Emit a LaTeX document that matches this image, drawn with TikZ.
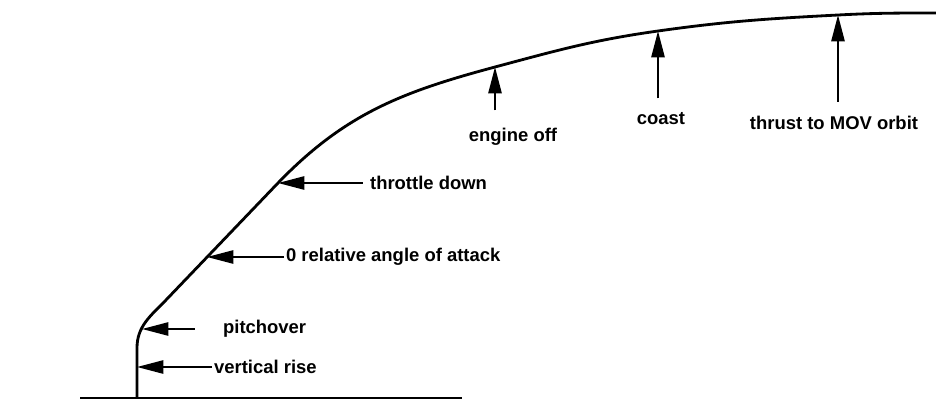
\documentclass[tikz,border=0pt]{standalone}
\usepackage{fontspec}
\setmainfont{Liberation Sans}
\usetikzlibrary{arrows.meta,positioning}

\begin{document}
\begin{tikzpicture}[x=0.02cm,y=0.02cm,
    lbl/.style={font=\bfseries\fontsize{10.5}{12}\selectfont,inner sep=1pt},
    pointer/.style={-{Triangle[length=15pt,width=7.5pt]},line width=1.2pt},
    trail/.style={line width=1.6pt}]
  \useasboundingbox (0,0) rectangle (936,400);
  % ground and trajectory
  \coordinate (g0) at (80,2);
  \coordinate (g1) at (462,2);
  \coordinate (rise) at (137,33);
  \coordinate (pitch) at (142,71);
  \coordinate (zero) at (207,143);
  \coordinate (throt) at (278,217);
  \coordinate (off) at (495,333);
  \coordinate (coast) at (658,369);
  \coordinate (thrust) at (838,385);
  \draw[trail] (g0) -- (g1);
  \draw[trail] (137,2) -- (137,52) to[out=90,in=226] (166,100) -- (throt)
    to[out=46,in=195] (off) to[out=15,in=188] (coast)
    to[out=8,in=183] (thrust) to[out=3,in=180] (936,387);
  % side labels
  \node[lbl,anchor=west] (lrise) at (212,33) {vertical rise};
  \node[lbl,anchor=west] (lpitch) at (221,71) {pitchover};
  \node[lbl,anchor=west] (lzero) at (284,143) {0 relative angle of attack};
  \node[lbl,anchor=west] (lthrot) at (368,217) {throttle down};
  \draw[pointer] (lrise.west) -- (rise);
  \draw[pointer,shorten <=15pt] (lpitch.west) -- (pitch);
  \draw[pointer] (lzero.west) -- (zero);
  \draw[pointer,shorten <=3pt] (lthrot.west) -- (throt);
  % labels below the arc
  \node[lbl] (loff) at (513,263) {engine off};
  \node[lbl] (lcoast) at (661,281) {coast};
  \node[lbl] (lthrust) at (834,277) {thrust to MOV orbit};
  \draw[pointer,shorten <=9pt] (loff.north -| off) -- (off);
  \draw[pointer,shorten <=7pt] (lcoast.north -| coast) -- (coast);
  \draw[pointer,shorten <=7pt] (lthrust.north -| thrust) -- (thrust);
\end{tikzpicture}
\end{document}
